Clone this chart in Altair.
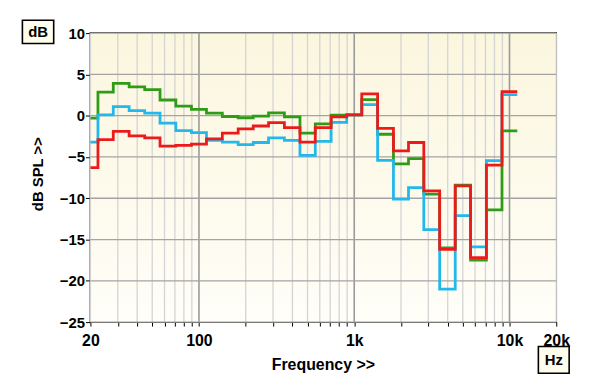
import altair as alt
import pandas as pd

# 1/3-octave band centres (Hz)
centers = [20, 25, 31.5, 40, 50, 63, 80, 100, 125, 160, 200, 250, 315, 400, 500,
           630, 800, 1000, 1250, 1600, 2000, 2500, 3150, 4000, 5000, 6300, 8000, 10000]
green = [-0.3, 2.85, 3.9, 3.5, 3.15, 1.9, 1.15, 0.75, 0.3, -0.1, -0.25, -0.05, 0.35, -0.15,
         -2.1, -1.0, 0.05, 0.1, 1.95, -2.25, -5.85, -5.2, -9.5, -16.0, -8.4, -17.5, -11.4, -1.85]
cyan = [-3.2, 0.1, 1.1, 0.6, 0.3, -0.9, -1.8, -2.05, -3.0, -3.2, -3.5, -3.25, -2.7, -3.0,
        -4.8, -3.1, -0.8, 0.1, 1.35, -5.4, -10.1, -8.7, -13.8, -21.0, -12.1, -15.9, -5.45, 2.55]
red = [-6.3, -2.9, -1.9, -2.45, -2.7, -3.7, -3.6, -3.45, -2.8, -2.1, -1.6, -1.25, -0.85, -1.45,
       -3.2, -1.45, -0.15, 0.1, 2.65, -1.55, -4.25, -3.25, -9.1, -16.2, -8.5, -17.2, -6.0, 2.9]

x_ticks = [20, 30, 40, 50, 60, 70, 80, 90, 100, 200, 300, 400, 500, 600, 700, 800, 900,
           1000, 2000, 3000, 4000, 5000, 6000, 7000, 8000, 9000, 10000, 20000]
x_decades = [100, 1000, 10000]
y_ticks = [-25, -20, -15, -10, -5, 0, 5, 10]

W, H = 469, 291
FONT = "Liberation Sans"

# band edges: lower edge of each band (first clipped to 20 Hz) plus final upper edge
edges = [20.0]
for i in range(1, len(centers)):
    edges.append((centers[i - 1] * centers[i]) ** 0.5)
last_upper = centers[-1] * 10 ** 0.05


def series_df(vals):
    xs = edges + [last_upper]
    ys = list(vals) + [vals[-1]]
    return pd.DataFrame({"f": xs, "db": ys})


xscale = alt.Scale(type="log", domain=[20, 20000], nice=False)
yscale = alt.Scale(domain=[-25, 10], nice=False)

x_axis = alt.Axis(
    values=x_ticks,
    labelExpr="datum.value == 20 ? '20' : datum.value == 100 ? '100' : datum.value == 1000 ? '1k' : datum.value == 10000 ? '10k' : datum.value == 20000 ? '20k' : ''",
    title=None, domain=False, tickSize=4, tickColor="black", tickWidth=1,
    labelFont=FONT, labelFontSize=16, labelFontWeight="bold", labelColor="black",
    labelPadding=7, labelFlush=False, labelOverlap=False, grid=False,
)
y_axis = alt.Axis(
    values=y_ticks, title=None, domain=False, tickSize=5, tickColor="black", tickWidth=1,
    labelFont=FONT, labelFontSize=15, labelFontWeight="bold", labelColor="black",
    labelPadding=1, labelFlush=False, grid=False,
)

dummy = pd.DataFrame({"a": [0]})
base = alt.Chart(dummy)

bg = base.mark_rect(
    fill=alt.LinearGradient(
        gradient="linear", x1=0, y1=0, x2=0, y2=1,
        stops=[alt.GradientStop(offset=0, color="#FBF6DE"),
               alt.GradientStop(offset=1, color="#FFFEF8")]),
).encode(x=alt.value(0), x2=alt.value(W), y=alt.value(0), y2=alt.value(H))

minor_rules = alt.Chart(pd.DataFrame({"v": [v for v in x_ticks if v not in x_decades]})).mark_rule(
    color="#d4d4d4", strokeWidth=1.3).encode(x=alt.X("v:Q", scale=xscale, axis=x_axis))
decade_rules = alt.Chart(pd.DataFrame({"v": x_decades})).mark_rule(
    color="#9a9a9a", strokeWidth=1.6).encode(x=alt.X("v:Q", scale=xscale, axis=x_axis))
h_rules = alt.Chart(pd.DataFrame({"v": y_ticks})).mark_rule(
    color="#a3a3a3", strokeWidth=1.3).encode(y=alt.Y("v:Q", scale=yscale, axis=y_axis))


def line_layer(vals, color):
    return alt.Chart(series_df(vals)).mark_line(
        interpolate="step-after", color=color, strokeWidth=2.8
    ).encode(x=alt.X("f:Q", scale=xscale, axis=x_axis),
             y=alt.Y("db:Q", scale=yscale, axis=y_axis))


lg = line_layer(green, "#2E9C17")
lc = line_layer(cyan, "#22B8EC")
lr = line_layer(red, "#EC1B1B")

db_box = base.mark_rect(fill="#FFFDEB", stroke="black", strokeWidth=1.6, clip=False).encode(
    x=alt.value(-68.5), x2=alt.value(-37), y=alt.value(-13), y2=alt.value(10.5))
db_txt = base.mark_text(text="dB", font=FONT, fontSize=15, fontWeight="bold", color="black",
                        align="center", baseline="middle").encode(
    x=alt.value(-52.7), y=alt.value(-1))
hz_box = base.mark_rect(fill="#FFFDEB", stroke="black", strokeWidth=1.6, clip=False).encode(
    x=alt.value(451), x2=alt.value(482), y=alt.value(315.5), y2=alt.value(342.5))
hz_txt = base.mark_text(text="Hz", font=FONT, fontSize=15, fontWeight="bold", color="black",
                        align="center", baseline="middle").encode(
    x=alt.value(466.5), y=alt.value(329.5))
xtitle = base.mark_text(text="Frequency >>", font=FONT, fontSize=16, fontWeight="bold",
                        color="black", align="center", baseline="alphabetic").encode(
    x=alt.value(W / 2), y=alt.value(339))
ytitle = base.mark_text(text="dB SPL >>", font=FONT, fontSize=15, fontWeight="bold",
                        color="black", align="center", baseline="middle", angle=270).encode(
    x=alt.value(-53), y=alt.value(142))

chart = alt.layer(bg, minor_rules, decade_rules, h_rules, lg, lc, lr,
                  db_box, db_txt, hz_box, hz_txt, xtitle, ytitle).properties(
    width=W, height=H,
    autosize=alt.AutoSizeParams(type="none"),
    padding={"left": 83, "top": 24, "right": 36, "bottom": 56},
    background="white",
).configure_view(stroke="black", strokeWidth=1.6)

chart.save("out.html", embed_options={"renderer": "svg", "actions": False})
